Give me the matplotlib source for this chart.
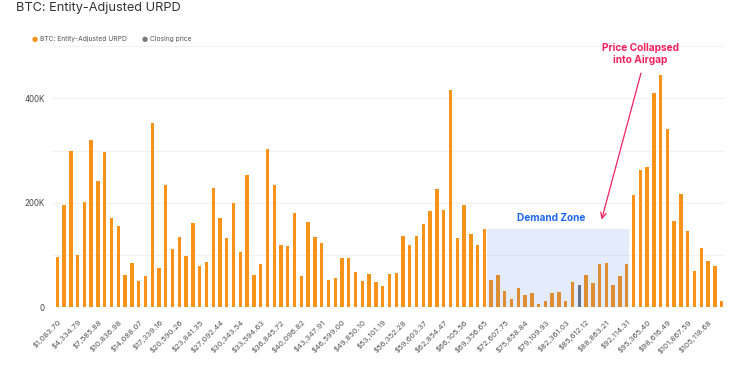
import matplotlib
matplotlib.use("Agg")
import matplotlib.pyplot as plt
from matplotlib.patches import Rectangle

# ---------------- data ----------------
urpd_values = [
    96, 195, 300, 100, 202, 321, 241, 297, 170, 155,
    62, 85, 50, 59, 352, 76, 235, 111, 135, 98,
    161, 80, 87, 228, 170, 133, 199, 105, 254, 61,
    82, 303, 235, 120, 117, 181, 60, 163, 135, 124,
    53, 57, 94, 94, 68, 50, 63, 49, 41, 63,
    65, 137, 119, 136, 160, 184, 226, 186, 416, 133,
    195, 140, 119, 149, 53, 61, 31, 16, 36, 24,
    27, 6, 13, 27, 30, 13, 49, 42, 61, 46,
    83, 84, 42, 59, 83, 214, 262, 269, 411, 444,
    341, 166, 216, 146, 69, 114, 88, 80, 13,
]  # thousands of BTC
closing_price_bin = 77  # index of bin containing closing price

tick_labels = [
    "$1,083.70", "$4,334.79", "$7,585.88", "$10,836.98", "$14,088.07",
    "$17,339.16", "$20,590.26", "$23,841.35", "$27,092.44", "$30,343.54",
    "$33,594.63", "$36,845.72", "$40,096.82", "$43,347.91", "$46,599.00",
    "$49,850.10", "$53,101.19", "$56,352.28", "$59,603.37", "$62,854.47",
    "$66,105.56", "$69,356.65", "$72,607.75", "$75,858.84", "$79,109.93",
    "$82,361.03", "$85,612.12", "$88,863.21", "$92,114.31", "$95,365.40",
    "$98,616.49", "$101,867.59", "$105,118.68",
]
tick_step = 3

demand_zone_bins = (63.35, 84.3)
demand_zone_top = 150

ORANGE = "#f7931a"
GREY = "#6f7480"

plt.rcParams["font.family"] = ["Inter", "DejaVu Sans"]

fig = plt.figure(figsize=(7.5, 3.75), dpi=100)
ax = fig.add_axes([0.0707, 0.1805, 0.896, 0.6968])

x = list(range(len(urpd_values)))
colors = [GREY if i == closing_price_bin else ORANGE for i in x]
ax.bar(x, [v * 1000 for v in urpd_values], width=0.5, color=colors, zorder=2)

ax.set_xlim(-0.63, 98.5)
ax.set_ylim(0, 500000)
ax.set_yticks([0, 100000, 200000, 300000, 400000, 500000])
ax.set_yticklabels(["0", "", "200K", "", "400K", ""])
ax.yaxis.grid(True, color="#f1f1f1", linewidth=0.8, zorder=0)
ax.set_axisbelow(True)
for s in ax.spines.values():
    s.set_visible(False)
ax.tick_params(axis="y", length=0, pad=6, labelsize=5.7, labelcolor="#444444")

ax.set_xticks(x[::tick_step])
ax.set_xticklabels(tick_labels, rotation=45, ha="right", va="top",
                   rotation_mode="anchor", fontsize=5.6, color="#555555")
ax.tick_params(axis="x", length=0, pad=8)

# Demand zone
rect = Rectangle((demand_zone_bins[0], 0), demand_zone_bins[1] - demand_zone_bins[0],
                 demand_zone_top * 1000, facecolor="#2f6fe8", alpha=0.13,
                 edgecolor="none", zorder=3)
ax.add_patch(rect)
ax.text(72.8, 170000, "Demand Zone", color="#1f66f2", fontsize=7.3,
        fontweight="bold", ha="center", va="center", zorder=4)

# Annotation
ax.annotate("", xy=(80.3, 168000), xytext=(86.1, 448000),
            arrowprops=dict(arrowstyle="->", color="#f5225f", lw=0.9,
                            shrinkA=0, shrinkB=0),
            annotation_clip=False, zorder=5)
ax.text(86.0, 485000, "Price Collapsed\ninto Airgap", color="#f5225f",
        fontsize=7.3, fontweight="bold", ha="center", va="center",
        linespacing=1.25, zorder=5)

# Title
fig.text(16 / 750, 1 - 11 / 375, "BTC: Entity-Adjusted URPD", fontsize=9.2,
         color="#333333", ha="left", va="baseline")

# Legend
fig.text(35 / 750, 1 - 39 / 375, "\u25CF", color=ORANGE, fontsize=5,
         ha="center", va="center", family=["DejaVu Sans"])
fig.text(40 / 750, 1 - 39 / 375, "BTC: Entity-Adjusted URPD", color="#555555",
         fontsize=4.8, ha="left", va="center")
fig.text(145 / 750, 1 - 39 / 375, "\u25CF", color="#7a7a7a", fontsize=5,
         ha="center", va="center", family=["DejaVu Sans"])
fig.text(150 / 750, 1 - 39 / 375, "Closing price", color="#555555",
         fontsize=4.8, ha="left", va="center")

fig.savefig("out.png", dpi=100, facecolor="white")
